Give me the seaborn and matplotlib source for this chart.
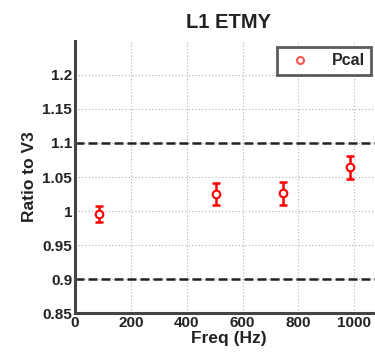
import matplotlib
matplotlib.use("Agg")
import matplotlib.pyplot as plt
import seaborn as sns
import pandas as pd

# Pcal ratio measurements
freq_hz = [86, 504, 744, 984]
ratio = [0.9955, 1.025, 1.026, 1.064]
ratio_err = [0.012, 0.016, 0.017, 0.017]
x_ticks = [0, 200, 400, 600, 800, 1000]
y_ticks = [0.85, 0.9, 0.95, 1.0, 1.05, 1.1, 1.15, 1.2]
y_tick_labels = ["0.85", "0.9", "0.95", "1", "1.05", "1.1", "1.15", "1.2"]
band = [0.9, 1.1]

sns.set_style("white")
plt.rcParams["font.family"] = ["Liberation Sans", "DejaVu Sans"]

df = pd.DataFrame({"Freq": freq_hz, "Ratio": ratio, "Err": ratio_err})

fig = plt.figure(figsize=(3.75, 3.57), dpi=100)
ax = fig.add_axes([0.2, 0.1232, 0.819, 0.762])

ax.errorbar(df["Freq"], df["Ratio"], yerr=df["Err"], fmt="none",
            ecolor="red", elinewidth=1.8, capsize=3, capthick=1.8, zorder=3)
sns.scatterplot(data=df, x="Freq", y="Ratio", marker="o", s=30,
                color="red", linewidth=1.5, ax=ax, zorder=4, legend=False)
for coll in ax.collections[-1:]:
    coll.set_facecolor("white")
    coll.set_edgecolor("red")

for b in band:
    ax.axhline(b, color="#222222", linestyle=(0, (3.6, 1.6)), linewidth=1.8, zorder=2)

ax.set_xlim(0, 1100)
ax.set_ylim(0.85, 1.25)
ax.set_xticks(x_ticks)
ax.set_yticks(y_ticks)
ax.set_yticklabels(y_tick_labels)
ax.grid(True, linestyle=(0, (1, 2)), color="#b0b0b0", linewidth=0.8)

for side in ["top", "right"]:
    ax.spines[side].set_visible(False)
for side in ["left", "bottom"]:
    ax.spines[side].set_linewidth(2.2)
    ax.spines[side].set_color("#444444")

ax.tick_params(direction="in", length=4, width=1.2, color="#444444",
               labelsize=11, labelcolor="#222222", pad=2)
for lbl in ax.get_xticklabels() + ax.get_yticklabels():
    lbl.set_fontweight("bold")

ax.set_xlabel("Freq (Hz)", fontsize=12.5, fontweight="bold", color="#222222", labelpad=1)
ax.set_ylabel("Ratio to V3", fontsize=12.5, fontweight="bold", color="#222222", labelpad=4)
ax.set_title("L1 ETMY", fontsize=14.5, fontweight="bold", color="#222222", pad=9)

handle = plt.Line2D([], [], marker="o", color="none", markeredgecolor="#ff5555",
                    markerfacecolor="none", markersize=5, markeredgewidth=1.5)
leg = ax.legend([handle], ["Pcal"], loc="upper right", bbox_to_anchor=(0.964, 0.978),
                borderaxespad=0, frameon=True, fancybox=False,
                prop={"weight": "bold", "size": 11.5},
                handlelength=2.0, borderpad=0.4, handletextpad=1.0)
leg.get_frame().set_edgecolor("#333333")
leg.get_frame().set_linewidth(2.0)

fig.savefig("out.png", dpi=100)
